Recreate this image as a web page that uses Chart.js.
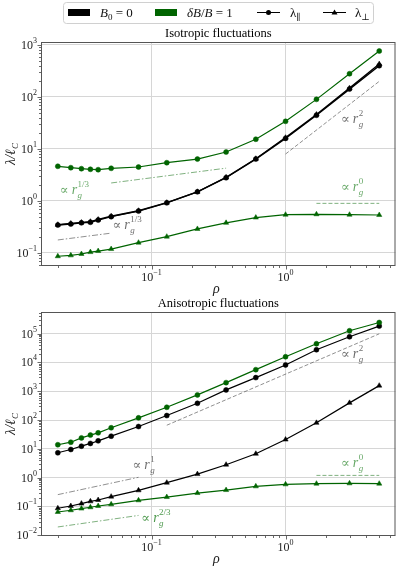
<!DOCTYPE html>
<html>
<head>
<meta charset="utf-8">
<script src="https://cdn.jsdelivr.net/npm/chart.js@4"></script>
<style>
  body { margin: 0; background: #fff; }
  #wrap { position: relative; width: 400px; height: 569px; overflow: hidden; }
  canvas { position: absolute; left: 0; }
</style>
</head>
<body>
<div id="wrap">
  <canvas id="isoChart" style="top:0"></canvas>
  <canvas id="anisoChart" style="top:290px"></canvas>
</div>
<script>
// gyroradius values (x axis)
const rho = [0.02, 0.025, 0.03, 0.035, 0.04, 0.05, 0.08, 0.13, 0.22, 0.36, 0.6, 1.0, 1.7, 3.0, 5.0];

// isotropic fluctuations
const isoParB0 = [0.345, 0.36, 0.38, 0.39, 0.43, 0.5, 0.64, 0.92, 1.5, 2.8, 6.4, 16, 44.5, 142, 400];
const isoPerpB0 = [0.35, 0.37, 0.385, 0.40, 0.44, 0.51, 0.65, 0.93, 1.5, 2.85, 6.5, 16.5, 46, 148, 430];
const isoParDB = [4.65, 4.37, 4.18, 4.07, 4.0, 4.25, 4.5, 5.45, 6.4, 8.75, 15.4, 34, 90, 280, 767];
const isoPerpDB = [0.0865, 0.090, 0.0957, 0.104, 0.109, 0.119, 0.158, 0.206, 0.29, 0.38, 0.48, 0.545, 0.555, 0.545, 0.538];

// anisotropic fluctuations
const aniParB0 = [7.3, 9.5, 12.4, 15.4, 19, 27.5, 59.5, 143, 381, 1110, 2960, 8130, 27500, 77400, 182000];
const aniPerpB0 = [0.0867, 0.104, 0.126, 0.151, 0.168, 0.22, 0.364, 0.67, 1.33, 2.82, 6.76, 21, 80, 394, 1560];
const aniParDB = [13.9, 17, 24, 30, 36, 54, 119, 277, 745, 1985, 5590, 15700, 44300, 125000, 242000];
const aniPerpDB = [0.0645, 0.074, 0.0846, 0.094, 0.104, 0.119, 0.164, 0.213, 0.293, 0.372, 0.5, 0.586, 0.62, 0.635, 0.62];

// power-law guide lines (end points)
const isoGuide13Green = { x: [0.05, 0.36], y: [2.22, 4.28] };
const isoGuide13Grey = { x: [0.02, 0.05], y: [0.178, 0.241] };
const isoGuide2 = { x: [1, 5], y: [8, 200] };
const isoGuide0 = { x: [1.7, 5], y: [0.9, 0.9] };
const aniGuide2 = { x: [0.13, 5], y: [66, 98000] };
const aniGuide1 = { x: [0.02, 0.08], y: [0.258, 1.03] };
const aniGuide23 = { x: [0.02, 0.08], y: [0.0195, 0.049] };
const aniGuide0 = { x: [1.7, 5], y: [1.2, 1.2] };

// tick labels
const xTicks = [0.1, 1];
const isoYTicks = [0.1, 1, 10, 100, 1000];
const anisoYTicks = [0.01, 0.1, 1, 10, 100, 1000, 1e4, 1e5];

const GREEN = '#006400';
const GREEN_LIGHT = 'rgba(0,100,0,0.5)';
const GREY = 'rgba(70,70,70,0.6)';
const SERIF = '"Liberation Serif", "DejaVu Serif", serif';

const pts = (xs, ys) => xs.map((x, i) => ({ x, y: ys[i] }));

const series = (vals, color, style, width) => ({
  data: pts(rho, vals),
  borderColor: color,
  backgroundColor: color,
  borderWidth: width || 1.2,
  pointStyle: style,
  pointRadius: style === 'triangle' ? 3 : 2.5,
  pointBorderWidth: 0.5,
  tension: 0,
});

const guide = (g, color, dash) => ({
  data: pts(g.x, g.y),
  borderColor: color,
  borderWidth: 1,
  borderDash: dash,
  pointRadius: 0,
  tension: 0,
});

const DASH = [4, 2];
const DASHDOT = [6, 2, 1.5, 2];

// draws "10^n" with a raised exponent
const drawPow = (ctx, exp, x, y, align) => {
  const base = '10';
  const sup = String(exp).replace('-', '\u2212');
  ctx.font = '12px ' + SERIF;
  const wb = ctx.measureText(base).width;
  ctx.font = '8px ' + SERIF;
  const ws = ctx.measureText(sup).width;
  let left = x;
  if (align === 'center') left = x - (wb + ws) / 2;
  if (align === 'right') left = x - (wb + ws);
  ctx.textAlign = 'left';
  ctx.textBaseline = 'alphabetic';
  ctx.font = '12px ' + SERIF;
  ctx.fillText(base, left, y);
  ctx.font = '8px ' + SERIF;
  ctx.fillText(sup, left + wb, y - 6);
};

// draws "∝ r_g^exp"
const drawPropto = (ctx, x, y, exp, color) => {
  ctx.fillStyle = color;
  ctx.textAlign = 'left';
  ctx.textBaseline = 'alphabetic';
  ctx.font = '13px ' + SERIF;
  ctx.fillText('\u221D', x, y);
  let cx = x + ctx.measureText('\u221D').width + 3;
  ctx.font = 'italic 14px ' + SERIF;
  ctx.fillText('r', cx, y);
  cx += ctx.measureText('r').width + 0.5;
  ctx.font = 'italic 9px ' + SERIF;
  ctx.fillText('g', cx, y + 4);
  ctx.font = '9px ' + SERIF;
  ctx.fillText(exp, cx, y - 7);
};

// small rich text: runs of {t, it, sub}
const drawRuns = (ctx, x, y, runs) => {
  ctx.textAlign = 'left';
  ctx.textBaseline = 'alphabetic';
  let cx = x;
  runs.forEach((r) => {
    const size = r.sub ? 9 : 13;
    ctx.font = (r.it ? 'italic ' : '') + size + 'px ' + SERIF;
    ctx.fillText(r.t, cx, r.sub ? y + 3 : y);
    cx += ctx.measureText(r.t).width;
  });
};

const legendPlugin = {
  id: 'topLegend',
  afterDraw(chart) {
    const ctx = chart.ctx;
    ctx.save();
    ctx.fillStyle = '#fff';
    ctx.strokeStyle = '#d0d0d0';
    ctx.lineWidth = 1;
    ctx.beginPath();
    ctx.roundRect(63.5, 2.5, 310, 21, 3);
    ctx.fill();
    ctx.stroke();

    ctx.fillStyle = '#000';
    ctx.fillRect(68, 9, 22, 7);
    ctx.fillStyle = GREEN;
    ctx.fillRect(155, 9, 22, 7);

    ctx.strokeStyle = '#000';
    ctx.fillStyle = '#000';
    ctx.beginPath();
    ctx.moveTo(257, 12.5); ctx.lineTo(280, 12.5);
    ctx.moveTo(323, 12.5); ctx.lineTo(346, 12.5);
    ctx.stroke();
    ctx.beginPath();
    ctx.arc(268.5, 12.5, 2.5, 0, Math.PI * 2);
    ctx.fill();
    ctx.beginPath();
    ctx.moveTo(334.5, 9.5); ctx.lineTo(337.5, 14.5); ctx.lineTo(331.5, 14.5);
    ctx.closePath();
    ctx.fill();

    ctx.fillStyle = '#111';
    drawRuns(ctx, 100, 17, [{ t: 'B', it: true }, { t: '0', sub: true }, { t: ' = 0' }]);
    drawRuns(ctx, 187, 17, [{ t: '\u03B4B', it: true }, { t: '/' }, { t: 'B', it: true }, { t: ' = 1' }]);
    drawRuns(ctx, 290, 17, [{ t: '\u03BB' }, { t: '\u2225', sub: true }]);
    drawRuns(ctx, 355, 17, [{ t: '\u03BB' }, { t: '\u22A5', sub: true }]);
    ctx.restore();
  },
};

const framePlugin = {
  id: 'frame',
  afterDraw(chart, args, opts) {
    const { ctx, chartArea: a, scales } = chart;
    const xs = scales.x, ys = scales.y;
    ctx.save();
    ctx.strokeStyle = '#555';
    ctx.lineWidth = 1;
    ctx.strokeRect(a.left + 0.5, a.top + 0.5, a.right - a.left - 1, a.bottom - a.top - 1);

    // major + minor tick marks, outward
    ctx.strokeStyle = '#444';
    ctx.lineWidth = 0.8;
    const marks = (scale, horiz) => {
      const lo = Math.floor(Math.log10(scale.min));
      const hi = Math.ceil(Math.log10(scale.max));
      for (let e = lo; e <= hi; e++) {
        for (let k = 1; k <= 9; k++) {
          const v = k * Math.pow(10, e);
          if (v < scale.min || v > scale.max) continue;
          const p = Math.round(scale.getPixelForValue(v)) + 0.5;
          const len = k === 1 ? 3.5 : 2;
          ctx.beginPath();
          if (horiz) { ctx.moveTo(p, a.bottom); ctx.lineTo(p, a.bottom + len); }
          else { ctx.moveTo(a.left, p); ctx.lineTo(a.left - len, p); }
          ctx.stroke();
        }
      }
    };
    marks(xs, true);
    marks(ys, false);

    ctx.fillStyle = '#222';
    xTicks.forEach((v) => drawPow(ctx, Math.round(Math.log10(v)), xs.getPixelForValue(v), a.bottom + 15, 'center'));
    opts.yTicks.forEach((v) => drawPow(ctx, Math.round(Math.log10(v)), a.left - 4, ys.getPixelForValue(v) + 4, 'right'));

    // title
    ctx.fillStyle = '#000';
    ctx.font = '12.5px ' + SERIF;
    ctx.textAlign = 'center';
    ctx.textBaseline = 'alphabetic';
    ctx.fillText(opts.title, (a.left + a.right) / 2, a.top - 5);

    // x label
    ctx.font = 'italic 14px ' + SERIF;
    ctx.fillStyle = '#222';
    ctx.fillText('\u03C1', (a.left + a.right) / 2 - 2, a.bottom + 27);

    // y label
    ctx.save();
    ctx.translate(15, (a.top + a.bottom) / 2);
    ctx.rotate(-Math.PI / 2);
    ctx.font = 'italic 14px ' + SERIF;
    const main = '\u03BB/\u2113';
    const wm = ctx.measureText(main).width;
    ctx.font = 'italic 9px ' + SERIF;
    const wc = ctx.measureText('C').width;
    const start = -(wm + wc) / 2;
    ctx.textAlign = 'left';
    ctx.font = 'italic 14px ' + SERIF;
    ctx.fillText(main, start, 0);
    ctx.font = 'italic 9px ' + SERIF;
    ctx.fillText('C', start + wm, 3);
    ctx.restore();

    // power-law labels
    opts.notes.forEach((n) => {
      drawPropto(ctx, xs.getPixelForValue(n.x), ys.getPixelForValue(n.y), n.exp, n.color);
    });
    ctx.restore();
  },
};

const makeChart = (id, height, padTop, xHeight, yMin, yMax, datasets, plugOpts, extra) => {
  const canvas = document.getElementById(id);
  canvas.width = 400;
  canvas.height = height;
  canvas.style.width = '400px';
  canvas.style.height = height + 'px';
  return new Chart(canvas.getContext('2d'), {
    type: 'line',
    data: { datasets },
    plugins: [framePlugin].concat(extra || []),
    options: {
      responsive: false,
      animation: false,
      devicePixelRatio: 1,
      layout: { padding: { top: padTop, right: 2, left: 0, bottom: 0 } },
      plugins: {
        legend: { display: false },
        tooltip: { enabled: false },
        frame: plugOpts,
      },
      scales: {
        x: {
          type: 'logarithmic',
          min: 0.01498,
          max: 6.61,
          bounds: 'data',
          afterBuildTicks: (s) => { s.ticks = xTicks.map((v) => ({ value: v })); },
          afterFit: (s) => { s.height = xHeight; },
          ticks: { display: false },
          grid: { color: '#d6d6d6', lineWidth: 1, drawTicks: false },
          border: { display: false },
        },
        y: {
          type: 'logarithmic',
          min: yMin,
          max: yMax,
          bounds: 'data',
          afterBuildTicks: (s) => { s.ticks = plugOpts.yTicks.map((v) => ({ value: v })); },
          afterFit: (s) => { s.width = 41; },
          ticks: { display: false },
          grid: { color: '#d6d6d6', lineWidth: 1, drawTicks: false },
          border: { display: false },
        },
      },
    },
  });
};

makeChart('isoChart', 300, 42, 34, 0.0562, 1142, [
  guide(isoGuide13Green, GREEN_LIGHT, DASHDOT),
  guide(isoGuide13Grey, GREY, DASHDOT),
  guide(isoGuide2, GREY, DASH),
  guide(isoGuide0, GREEN_LIGHT, DASH),
  series(isoPerpDB, GREEN, 'triangle'),
  series(isoParDB, GREEN, 'circle'),
  series(isoPerpB0, '#000', 'triangle', 1.4),
  series(isoParB0, '#000', 'circle', 1.4),
], {
  title: 'Isotropic fluctuations',
  yTicks: isoYTicks,
  notes: [
    { x: 0.0207, y: 1.36, exp: '1/3', color: 'rgba(0,110,0,0.6)' },
    { x: 0.0512, y: 0.29, exp: '1/3', color: 'rgba(60,60,60,0.75)' },
    { x: 2.59, y: 31.6, exp: '2', color: 'rgba(60,60,60,0.75)' },
    { x: 2.59, y: 1.56, exp: '0', color: 'rgba(0,110,0,0.6)' },
  ],
}, [legendPlugin]);

makeChart('anisoChart', 279, 22, 33, 0.00947, 560000, [
  guide(aniGuide2, GREY, DASH),
  guide(aniGuide1, GREY, DASHDOT),
  guide(aniGuide23, GREEN_LIGHT, DASHDOT),
  guide(aniGuide0, GREEN_LIGHT, DASH),
  series(aniPerpDB, GREEN, 'triangle'),
  series(aniParDB, GREEN, 'circle'),
  series(aniPerpB0, '#000', 'triangle'),
  series(aniParB0, '#000', 'circle'),
], {
  title: 'Anisotropic fluctuations',
  yTicks: anisoYTicks,
  notes: [
    { x: 2.59, y: 13900, exp: '2', color: 'rgba(60,60,60,0.75)' },
    { x: 0.072, y: 1.99, exp: '1', color: 'rgba(60,60,60,0.75)' },
    { x: 0.084, y: 0.029, exp: '2/3', color: 'rgba(0,110,0,0.7)' },
    { x: 2.59, y: 2.33, exp: '0', color: 'rgba(0,110,0,0.6)' },
  ],
});
</script>
</body>
</html>
